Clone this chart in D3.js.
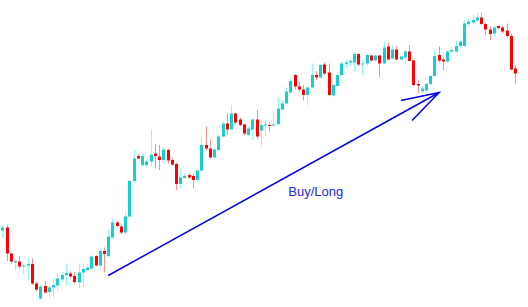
<!DOCTYPE html>
<html>
<head>
<meta charset="utf-8">
<script src="https://cdnjs.cloudflare.com/ajax/libs/d3/7.8.5/d3.min.js"></script>
<style>
  html, body { margin: 0; padding: 0; background: #fff; }
  svg { display: block; }
</style>
</head>
<body>
<div id="chart"></div>
<script>
// candle prices, left to right
const open = [1.3139,1.3145,1.3093,1.3075,1.3077,1.3067,1.3069,1.3072,1.3033,1.3003,1.3028,1.3016,1.3025,1.3029,1.3041,1.3050,1.3053,1.3048,1.3035,1.3055,
  1.3060,1.3063,1.3088,1.3069,1.3098,1.3088,1.3125,1.3155,1.3147,1.3135,1.3167,1.3238,1.3288,1.3270,1.3270,1.3277,1.3293,1.3287,1.3280,1.3300,
  1.3280,1.3272,1.3232,1.3244,1.3250,1.3248,1.3240,1.3259,1.3310,1.3303,1.3285,1.3300,1.3327,1.3353,1.3341,1.3373,1.3361,1.3351,1.3330,1.3341,
  1.3361,1.3339,1.3349,1.3350,1.3349,1.3352,1.3381,1.3393,1.3415,1.3450,1.3427,1.3421,1.3410,1.3425,1.3450,1.3445,1.3471,1.3455,1.3409,1.3428,
  1.3450,1.3472,1.3475,1.3475,1.3492,1.3471,1.3473,1.3489,1.3479,1.3489,1.3473,1.3507,1.3483,1.3501,1.3481,1.3485,1.3497,1.3479,1.3432,1.3417,
  1.3419,1.3432,1.3448,1.3490,1.3481,1.3477,1.3497,1.3497,1.3508,1.3508,1.3552,1.3555,1.3559,1.3565,1.3552,1.3541,1.3533,1.3548,1.3545,1.3539,
  1.3528,1.3463]
const high = [1.3150,1.3151,1.3095,1.3083,1.3088,1.3073,1.3085,1.3083,1.3037,1.3030,1.3038,1.3029,1.3042,1.3052,1.3056,1.3073,1.3057,1.3056,1.3073,1.3072,
  1.3073,1.3090,1.3090,1.3103,1.3105,1.3140,1.3162,1.3158,1.3151,1.3179,1.3241,1.3300,1.3293,1.3293,1.3281,1.3341,1.3312,1.3310,1.3305,1.3303,
  1.3285,1.3275,1.3263,1.3253,1.3253,1.3252,1.3261,1.3323,1.3347,1.3321,1.3305,1.3330,1.3357,1.3373,1.3390,1.3375,1.3365,1.3353,1.3347,1.3363,
  1.3380,1.3360,1.3360,1.3357,1.3375,1.3405,1.3400,1.3425,1.3443,1.3452,1.3437,1.3430,1.3428,1.3473,1.3457,1.3472,1.3475,1.3473,1.3433,1.3455,
  1.3477,1.3480,1.3481,1.3495,1.3493,1.3481,1.3492,1.3490,1.3490,1.3490,1.3517,1.3515,1.3508,1.3508,1.3488,1.3500,1.3510,1.3481,1.3440,1.3428,
  1.3435,1.3450,1.3499,1.3507,1.3485,1.3499,1.3507,1.3517,1.3521,1.3560,1.3563,1.3570,1.3575,1.3575,1.3555,1.3547,1.3548,1.3549,1.3548,1.3553,
  1.3533,1.3470]
const low = [1.3124,1.3078,1.3073,1.3059,1.3063,1.3052,1.3039,1.3030,1.3017,1.3001,1.3013,1.3005,1.3005,1.3017,1.3037,1.3028,1.3045,1.3033,1.3023,1.3026,
  1.3057,1.3062,1.3067,1.3067,1.3055,1.3085,1.3123,1.3145,1.3132,1.3132,1.3165,1.3233,1.3281,1.3267,1.3265,1.3267,1.3263,1.3260,1.3275,1.3273,
  1.3268,1.3220,1.3223,1.3243,1.3243,1.3223,1.3237,1.3257,1.3299,1.3283,1.3283,1.3299,1.3325,1.3330,1.3340,1.3352,1.3347,1.3330,1.3328,1.3320,
  1.3323,1.3307,1.3327,1.3337,1.3347,1.3350,1.3380,1.3392,1.3413,1.3421,1.3417,1.3399,1.3390,1.3423,1.3440,1.3443,1.3450,1.3408,1.3407,1.3425,
  1.3447,1.3465,1.3468,1.3457,1.3468,1.3450,1.3468,1.3477,1.3477,1.3445,1.3472,1.3480,1.3481,1.3480,1.3480,1.3470,1.3477,1.3428,1.3414,1.3415,
  1.3417,1.3430,1.3447,1.3475,1.3460,1.3475,1.3493,1.3495,1.3505,1.3507,1.3548,1.3552,1.3557,1.3550,1.3530,1.3520,1.3527,1.3541,1.3533,1.3525,
  1.3460,1.3433]
const close = [1.3145,1.3093,1.3077,1.3078,1.3067,1.3069,1.3072,1.3033,1.3021,1.3027,1.3015,1.3025,1.3030,1.3043,1.3050,1.3054,1.3047,1.3036,1.3055,1.3062,
  1.3065,1.3087,1.3069,1.3098,1.3092,1.3127,1.3155,1.3148,1.3135,1.3167,1.3238,1.3283,1.3283,1.3288,1.3277,1.3291,1.3288,1.3280,1.3301,1.3279,
  1.3271,1.3232,1.3245,1.3248,1.3245,1.3240,1.3259,1.3310,1.3303,1.3285,1.3301,1.3327,1.3353,1.3341,1.3373,1.3355,1.3350,1.3333,1.3343,1.3361,
  1.3327,1.3350,1.3351,1.3348,1.3351,1.3383,1.3393,1.3417,1.3438,1.3427,1.3421,1.3410,1.3425,1.3450,1.3445,1.3470,1.3453,1.3410,1.3430,1.3450,
  1.3473,1.3475,1.3478,1.3492,1.3471,1.3473,1.3490,1.3479,1.3489,1.3473,1.3505,1.3481,1.3501,1.3481,1.3487,1.3497,1.3478,1.3430,1.3429,1.3423,
  1.3432,1.3448,1.3488,1.3479,1.3477,1.3497,1.3500,1.3508,1.3517,1.3553,1.3557,1.3560,1.3565,1.3552,1.3541,1.3532,1.3545,1.3544,1.3537,1.3528,
  1.3461,1.3453]

// arrow: from candle 25 to candle 103
const arrowFrom = {i: 25, price: 1.3049}
const arrowTo = {i: 103.1, price: 1.3415}
const label = {text: 'Buy/Long', i: 67.5, price: 1.3209}

const width = 528, height = 307
const upBody = '#14d0d0', upWick = '#8ffafa'
const downBody = '#ff0000', downWick = '#ff9090'

const candles = open.map((o, i) => ({i, o, h: high[i], l: low[i], c: close[i]}))

const x = d3.scaleLinear().domain([0, candles.length - 1]).range([2.3, 515])
const y = d3.scaleLinear().domain([1.3, 1.36]).range([300, 0])

const svg = d3.select('#chart').append('svg')
  .attr('width', width)
  .attr('height', height)

const g = svg.selectAll('g.candle')
  .data(candles)
  .enter().append('g')
  .attr('class', 'candle')

g.append('line')
  .attr('x1', d => Math.round(x(d.i)) + 0.5)
  .attr('x2', d => Math.round(x(d.i)) + 0.5)
  .attr('y1', d => y(d.h))
  .attr('y2', d => y(d.l))
  .attr('stroke', d => d.c >= d.o ? upWick : downWick)
  .attr('stroke-width', 1)

g.append('rect')
  .attr('x', d => Math.round(x(d.i)) - 1)
  .attr('width', 3)
  .attr('y', d => y(Math.max(d.o, d.c)))
  .attr('height', d => Math.max(1, Math.abs(y(d.o) - y(d.c))))
  .attr('fill', d => d.c >= d.o ? upBody : downBody)

// arrow
const ax1 = x(arrowFrom.i), ay1 = y(arrowFrom.price)
const ax2 = x(arrowTo.i), ay2 = y(arrowTo.price)
const ang = Math.atan2(ay1 - ay2, ax1 - ax2)
const barb = 39, spread = 17 * Math.PI / 180

svg.append('line')
  .attr('x1', ax1).attr('y1', ay1)
  .attr('x2', ax2).attr('y2', ay2)
  .attr('stroke', '#0000ee')
  .attr('stroke-width', 1.5)

svg.append('path')
  .attr('d', `M${ax2 + barb * Math.cos(ang + spread)},${ay2 + barb * Math.sin(ang + spread)}L${ax2},${ay2}L${ax2 + barb * Math.cos(ang - spread)},${ay2 + barb * Math.sin(ang - spread)}`)
  .attr('fill', 'none')
  .attr('stroke', '#0000ee')
  .attr('stroke-width', 1.5)

svg.append('text')
  .attr('x', x(label.i))
  .attr('y', y(label.price))
  .attr('font-family', 'Liberation Sans, Arial, sans-serif')
  .attr('font-size', 13)
  .attr('fill', '#2626f0')
  .text(label.text)
</script>
</body>
</html>
